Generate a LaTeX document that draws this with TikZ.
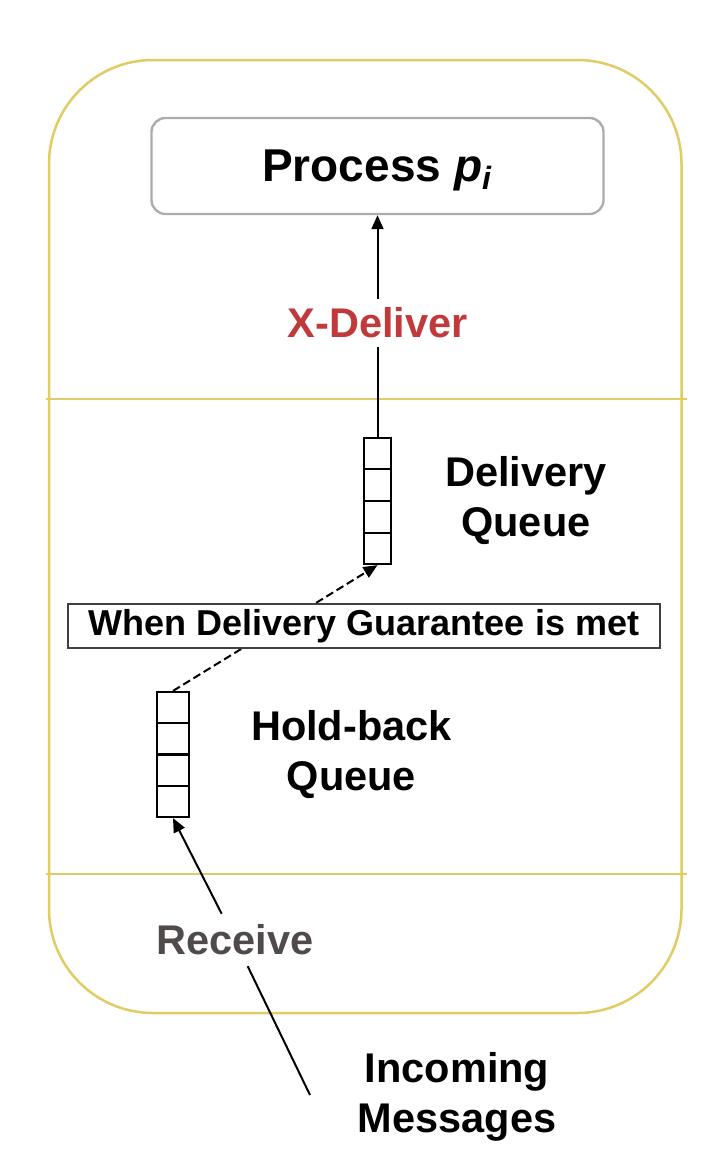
\documentclass[tikz,border=0pt]{standalone}
\usepackage{fontspec}
\setmainfont{Liberation Sans}
\usetikzlibrary{arrows.meta,positioning,calc}
\definecolor{frameyel}{RGB}{224,204,100}
\definecolor{xred}{RGB}{192,57,59}
\definecolor{recvgray}{RGB}{80,74,74}
\definecolor{procgray}{RGB}{172,172,172}
\newcommand{\lblfont}{\fontsize{20.75pt}{25pt}\selectfont\bfseries}

\begin{document}
\begin{tikzpicture}[x=0.5pt,y=-0.5pt,>={Triangle[length=7pt,width=6pt]},line width=1pt,
  pbox/.style={draw=procgray,line width=1.2pt,rounded corners=7pt,
               minimum width=226pt,minimum height=48pt,text depth=0pt,
               font=\fontsize{23pt}{27pt}\selectfont\bfseries},
  queue/.style={draw,line width=1.1pt,inner sep=0pt},
  lbl/.style={align=center,inner sep=0pt,font=\lblfont},
  cbox/.style={draw=black!75,fill=white,minimum width=296pt,minimum height=22pt,
               inner sep=0pt,font=\fontsize{18pt}{21pt}\selectfont\bfseries}]
\useasboundingbox (0,0) rectangle (722,1168);
\draw[frameyel,line width=1.25pt,rounded corners=52pt] (49,60) rectangle (681.5,1013);
\draw[frameyel,line width=1.25pt] (46,399) -- (687,399) (46,874) -- (687,874);
\node[pbox] (proc) at (377.5,166) {Process \textit{p}\textsubscript{\textit{i}}};
\node[lbl,text=xred,inner sep=4pt] (xdel) at (377.5,323) {X-Deliver};
\node[queue,minimum width=13.5pt,minimum height=63pt] (dq) at (377.5,501) {};
\node[lbl,right=26pt of dq] (dql) {Delivery\\Queue};
\node[queue,minimum width=16pt,minimum height=62.5pt] (hq) at (173,754.5) {};
\node[lbl,right=30pt of hq] (hql) {Hold-back\\Queue};
\foreach \q in {dq,hq}
  \foreach \k in {1,2,3}
    \draw[line width=1.1pt] ($(\q.south west)!\k/4!(\q.north west)$) -- ($(\q.south east)!\k/4!(\q.north east)$);
\draw[->,dash pattern=on 4pt off 2pt] (hq.north) -- (dq.south);
\node[cbox] (cond) at (364,626) {When Delivery Guarantee is met};
\node[lbl,text=recvgray,inner sep=5pt] (recv) at (235,940) {Receive};
\node[lbl] (inc) at (457,1097) {Incoming\\Messages};
\coordinate (src) at (310,1095);
\draw[->] (xdel) -- (proc); \draw (dq) -- (xdel);
\draw[->] (recv) -- (hq.south); \draw (src) -- (recv);
\end{tikzpicture}
\end{document}
